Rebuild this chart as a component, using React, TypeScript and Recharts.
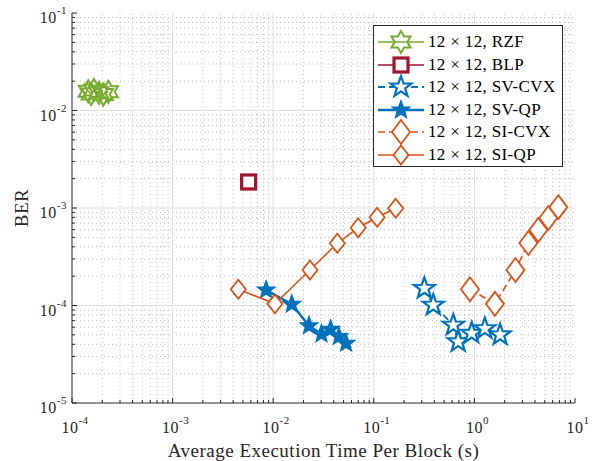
import React from 'react';
import { ScatterChart, Scatter, XAxis, YAxis, ReferenceLine, Legend, Label } from 'recharts';

// execution time per block (s) and BER for each detector, 12x12 system
const RZF_T = [1.45e-4, 1.55e-4, 1.65e-4, 1.85e-4, 2.05e-4, 2.3e-4];
const RZF_BER = [0.0158, 0.0148, 0.0162, 0.0152, 0.0146, 0.0156];

const BLP_T = [5.7e-3];
const BLP_BER = [1.85e-3];

const SVCVX_T = [0.318, 0.39, 0.617, 0.69, 0.94, 1.27, 1.8];
const SVCVX_BER = [1.5e-4, 1.01e-4, 6.3e-5, 4.25e-5, 5.2e-5, 5.8e-5, 5.0e-5];

const SVQP_T = [8.5e-3, 0.0153, 0.0227, 0.0302, 0.0372, 0.045, 0.053];
const SVQP_BER = [1.44e-4, 1.03e-4, 6.2e-5, 5.1e-5, 5.7e-5, 4.8e-5, 4.1e-5];

const SICVX_T = [0.904, 1.6, 2.56, 3.44, 4.32, 5.43, 6.82];
const SICVX_BER = [1.47e-4, 1.04e-4, 2.31e-4, 4.38e-4, 5.95e-4, 7.9e-4, 1.02e-3];

const SIQP_T = [4.5e-3, 0.0104, 0.0232, 0.0434, 0.07, 0.108, 0.165];
const SIQP_BER = [1.47e-4, 1.04e-4, 2.31e-4, 4.35e-4, 6.28e-4, 8.03e-4, 9.93e-4];

const X_MAJOR = [1e-4, 1e-3, 1e-2, 1e-1, 1, 10];
const Y_MAJOR = [1e-5, 1e-4, 1e-3, 1e-2, 1e-1];

const minorOf = (majors: number[]) =>
  majors.slice(0, -1).flatMap((m) => [2, 3, 4, 5, 6, 7, 8, 9].map((k) => k * m));
const X_MINOR = minorOf(X_MAJOR);
const Y_MINOR = minorOf(Y_MAJOR);
const X_ALL = [...X_MAJOR, ...X_MINOR];
const Y_ALL = [...Y_MAJOR, ...Y_MINOR];

const BLUE = '#0072BD';
const ORANGE = '#D95319';
const GREEN = '#77AC30';
const RED = '#A2142F';
const AXIS = '#262626';
const FONT = 'Liberation Serif, serif';

const zip = (t: number[], b: number[]) => t.map((v, i) => ({ t: v, ber: b[i] }));

const isMajor = (v: number) => Math.abs(Math.log10(v) - Math.round(Math.log10(v))) < 1e-9;
const expOf = (v: number) => String(Math.round(Math.log10(v)));

// ---- marker shapes ----
function starPath(cx: number, cy: number, R: number, n: number, ratio: number) {
  const pts: string[] = [];
  for (let i = 0; i < n * 2; i++) {
    const r = i % 2 === 0 ? R : R * ratio;
    const a = -Math.PI / 2 + (i * Math.PI) / n;
    pts.push(`${(cx + r * Math.cos(a)).toFixed(2)},${(cy + r * Math.sin(a)).toFixed(2)}`);
  }
  return `M${pts.join('L')}Z`;
}

type MarkerKind = 'hex' | 'square' | 'starBig' | 'starSmall' | 'diaBig' | 'diaSmall';

function Marker({ kind, cx, cy, color }: { kind: MarkerKind; cx: number; cy: number; color: string }) {
  switch (kind) {
    case 'hex':
      return <path d={starPath(cx, cy, 11, 6, 0.577)} fill="none" stroke={color} strokeWidth={2} />;
    case 'square':
      return <rect x={cx - 7} y={cy - 7} width={14} height={14} fill="#fff" stroke={color} strokeWidth={3.2} />;
    case 'starBig':
      return <path d={starPath(cx, cy, 11, 5, 0.4)} fill="#fff" stroke={color} strokeWidth={2.2} />;
    case 'starSmall':
      return <path d={starPath(cx, cy, 9, 5, 0.42)} fill={color} stroke={color} strokeWidth={1.5} />;
    case 'diaBig':
      return (
        <path d={`M${cx},${cy - 12}L${cx + 9},${cy}L${cx},${cy + 12}L${cx - 9},${cy}Z`}
          fill="#fff" stroke={color} strokeWidth={1.8} />
      );
    case 'diaSmall':
    default:
      return (
        <path d={`M${cx},${cy - 9.5}L${cx + 7.5},${cy}L${cx},${cy + 9.5}L${cx - 7.5},${cy}Z`}
          fill="#fff" stroke={color} strokeWidth={1.8} />
      );
  }
}

const shapeOf = (kind: MarkerKind, color: string) => (p: any) =>
  <Marker kind={kind} cx={p.cx} cy={p.cy} color={color} />;

interface SeriesDef {
  name: string;
  data: { t: number; ber: number }[];
  color: string;
  kind: MarkerKind;
  dash?: string;
  width: number;
}

const SERIES: SeriesDef[] = [
  { name: '12 × 12, RZF', data: zip(RZF_T, RZF_BER), color: GREEN, kind: 'hex', width: 1.5 },
  { name: '12 × 12, BLP', data: zip(BLP_T, BLP_BER), color: RED, kind: 'square', width: 1.5 },
  { name: '12 × 12, SV-CVX', data: zip(SVCVX_T, SVCVX_BER), color: BLUE, kind: 'starBig', dash: '7 4', width: 1.8 },
  { name: '12 × 12, SV-QP', data: zip(SVQP_T, SVQP_BER), color: BLUE, kind: 'starSmall', width: 2.5 },
  { name: '12 × 12, SI-CVX', data: zip(SICVX_T, SICVX_BER), color: ORANGE, kind: 'diaBig', dash: '7 4', width: 1.6 },
  { name: '12 × 12, SI-QP', data: zip(SIQP_T, SIQP_BER), color: ORANGE, kind: 'diaSmall', width: 1.6 },
];

const TICK_TEXT = { fontFamily: FONT, fontSize: 16, letterSpacing: 0.5 };

// ---- axis ticks: inward tick marks, power-of-ten labels ----
function BottomTick({ x, y, payload }: any) {
  const v = payload.value;
  const major = isMajor(v);
  return (
    <g>
      <line x1={x} y1={y} x2={x} y2={y - (major ? 5 : 3)} stroke={AXIS} />
      {major && (
        <text x={x + 3} y={y + 30} textAnchor="middle" fill={AXIS} style={TICK_TEXT}>
          10<tspan dy={-9} style={{ fontSize: 11 }}>{expOf(v)}</tspan>
        </text>
      )}
    </g>
  );
}

function TopTick({ x, y, payload }: any) {
  const major = isMajor(payload.value);
  return <line x1={x} y1={y} x2={x} y2={y + (major ? 5 : 3)} stroke={AXIS} />;
}

function LeftTick({ x, y, payload }: any) {
  const v = payload.value;
  const major = isMajor(v);
  return (
    <g>
      <line x1={x} y1={y} x2={x + (major ? 5 : 3)} y2={y} stroke={AXIS} />
      {major && (
        <text x={x - 5} y={y + 10} textAnchor="end" fill={AXIS} style={TICK_TEXT}>
          10<tspan dy={-9} style={{ fontSize: 11 }}>{expOf(v)}</tspan>
        </text>
      )}
    </g>
  );
}

function RightTick({ x, y, payload }: any) {
  const major = isMajor(payload.value);
  return <line x1={x} y1={y} x2={x - (major ? 5 : 3)} y2={y} stroke={AXIS} />;
}

function LegendBox() {
  return (
    <div
      style={{
        border: `1px solid ${AXIS}`, background: '#fff', width: 188, paddingTop: 5,
        fontFamily: FONT, fontSize: 17, letterSpacing: 0.35, color: '#000', lineHeight: '22.5px',
      }}
    >
      {SERIES.map((s) => (
        <div key={s.name} style={{ display: 'flex', alignItems: 'center', height: 22.5 }}>
          <svg width={46} height={22} style={{ marginLeft: 4, overflow: 'visible', flex: 'none' }}>
            <line x1={0} y1={11} x2={46} y2={11} stroke={s.color} strokeWidth={s.width} strokeDasharray={s.dash} />
            <Marker kind={s.kind} cx={23} cy={11} color={s.color} />
          </svg>
          <span style={{ marginLeft: 4, whiteSpace: 'nowrap', fontFamily: FONT }}>{s.name}</span>
        </div>
      ))}
    </div>
  );
}

export default function App() {
  return (
    <div style={{ position: 'absolute', left: 0, top: 0, background: '#fff', fontFamily: FONT }}>
      <ScatterChart width={592} height={461} margin={{ top: 13, right: 17, bottom: 0, left: 0 }}>
        <XAxis
          xAxisId="b" dataKey="t" type="number" scale="log" domain={[1e-4, 10]} allowDataOverflow
          ticks={X_ALL} interval={0} tick={<BottomTick />} tickLine={false} tickSize={0} tickMargin={0}
          height={58} stroke={AXIS}
        >
          <Label value="Average Execution Time Per Block (s)" position="insideBottom" offset={4}
            fill={AXIS} style={{ fontFamily: FONT, fontSize: 19, letterSpacing: 0.5 }} />
        </XAxis>
        <XAxis
          xAxisId="t" orientation="top" type="number" scale="log" domain={[1e-4, 10]} allowDataOverflow
          ticks={X_ALL} interval={0} tick={<TopTick />} tickLine={false} tickSize={0} tickMargin={0}
          height={0} stroke={AXIS}
        />
        <YAxis
          yAxisId="l" dataKey="ber" type="number" scale="log" domain={[1e-5, 1e-1]} allowDataOverflow
          ticks={Y_ALL} interval={0} tick={<LeftTick />} tickLine={false} tickSize={0} tickMargin={0}
          width={72} stroke={AXIS}
        >
          <Label
            content={({ viewBox }: any) => (
              <text x={viewBox.x + 28} y={viewBox.y + viewBox.height / 2} textAnchor="middle"
                transform={`rotate(-90 ${viewBox.x + 28} ${viewBox.y + viewBox.height / 2})`}
                fill={AXIS} style={{ fontFamily: FONT, fontSize: 19, letterSpacing: 0.5 }}>
                BER
              </text>
            )}
          />
        </YAxis>
        <YAxis
          yAxisId="r" orientation="right" type="number" scale="log" domain={[1e-5, 1e-1]} allowDataOverflow
          ticks={Y_ALL} interval={0} tick={<RightTick />} tickLine={false} tickSize={0} tickMargin={0}
          width={0} stroke={AXIS}
        />

        {X_MINOR.map((v) => (
          <ReferenceLine key={`xm${v}`} x={v} xAxisId="b" yAxisId="l" stroke="#bdbdbd" strokeDasharray="1 3" />
        ))}
        {Y_MINOR.map((v) => (
          <ReferenceLine key={`ym${v}`} y={v} xAxisId="b" yAxisId="l" stroke="#bdbdbd" strokeDasharray="1 3" />
        ))}
        {X_MAJOR.slice(1, -1).map((v) => (
          <ReferenceLine key={`xM${v}`} x={v} xAxisId="b" yAxisId="l" stroke="#dfdfdf" />
        ))}
        {Y_MAJOR.slice(1, -1).map((v) => (
          <ReferenceLine key={`yM${v}`} y={v} xAxisId="b" yAxisId="l" stroke="#dfdfdf" />
        ))}

        {SERIES.map((s) => (
          <Scatter
            key={s.name} name={s.name} data={s.data} xAxisId="b" yAxisId="l"
            line={{ stroke: s.color, strokeWidth: s.width, strokeDasharray: s.dash }}
            lineType="joint" shape={shapeOf(s.kind, s.color)} isAnimationActive={false}
          />
        ))}

        <Legend
          layout="vertical" align="center" verticalAlign="middle"
          wrapperStyle={{ top: 25, left: 373, width: 190 }}
          content={() => <LegendBox />}
        />
      </ScatterChart>
    </div>
  );
}
